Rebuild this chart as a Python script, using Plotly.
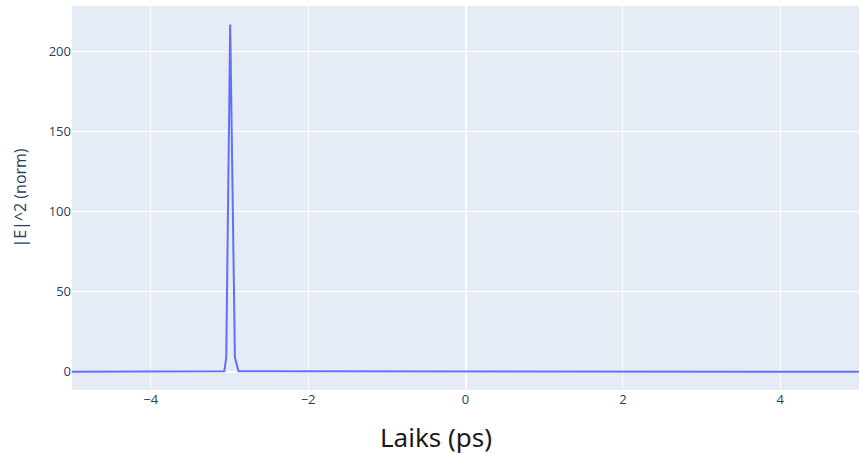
import plotly.graph_objects as go

time_ps = [-5.0, -3.065, -3.04, -2.99, -2.93, -2.885, 5.0]
intensity = [0.0, 0.3, 9.0, 217.0, 9.0, 0.3, 0.0]

x_title = "Laiks (ps)"
y_title = "|E|^2 (norm)"
y_ticks = [0, 50, 100, 150, 200]
x_ticks = [-4, -2, 0, 2, 4]

fig = go.Figure()
fig.add_trace(go.Scatter(x=time_ps, y=intensity, mode="lines",
                         line=dict(color="#636efa", width=2)))

fig.update_layout(
    template="plotly",
    width=859, height=454,
    margin=dict(l=72, r=0, t=6, b=64),
    showlegend=False,
    font=dict(family="Open Sans, Verdana, Arial, sans-serif", size=13, color="#2a3f5f"),
    xaxis=dict(range=[-5, 5], tickvals=x_ticks, zeroline=True,
               zerolinecolor="white", zerolinewidth=2),
    yaxis=dict(range=[-11.4, 228.6], tickvals=y_ticks,
               title=dict(text=y_title, font=dict(size=16), standoff=18)),
    annotations=[dict(text=x_title, xref="paper", yref="paper",
                      x=0.4625, y=-0.122, xanchor="center", yanchor="middle",
                      showarrow=False,
                      font=dict(family="Noto Sans, sans-serif", size=26, color="#1a1a1a"))],
)

fig.write_html("out.html", config={"displayModeBar": False},
               post_script="document.body.style.margin='0';document.body.style.overflow='hidden';")
